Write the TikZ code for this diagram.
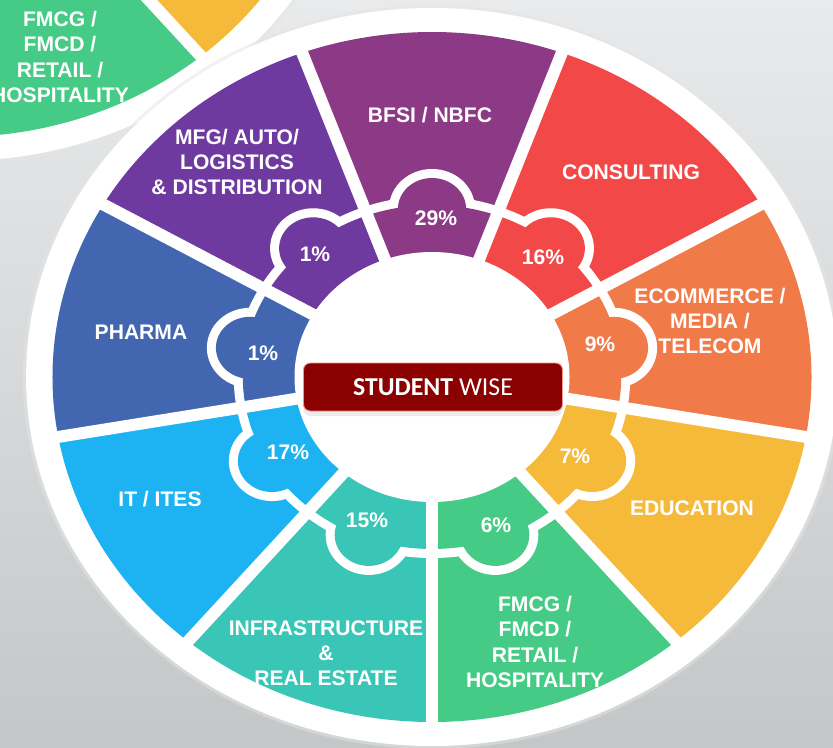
\documentclass[tikz,border=0pt]{standalone}
\usepackage{fontspec}
\setmainfont{Liberation Sans}
\newfontfamily\boxfont{Carlito}
\usepackage{tikz}
\usetikzlibrary{calc,shadows}

\definecolor{bgtop}{RGB}{233,234,235}
\definecolor{bgbot}{RGB}{196,199,200}
\definecolor{bfsi}{RGB}{141,58,134}
\definecolor{mfg}{RGB}{111,58,160}
\definecolor{pharma}{RGB}{66,103,176}
\definecolor{ites}{RGB}{29,179,243}
\definecolor{infra}{RGB}{58,198,182}
\definecolor{fmcg}{RGB}{69,203,133}
\definecolor{edu}{RGB}{246,186,58}
\definecolor{ecom}{RGB}{240,122,72}
\definecolor{consult}{RGB}{243,72,72}
\definecolor{boxred}{RGB}{139,0,0}
\definecolor{boxedge}{RGB}{240,150,140}

\tikzset{
	seglabel/.style={text=white,align=center,font=\bfseries\fontsize{18}{21.5}\selectfont},
	pctlabel/.style={text=white,font=\bfseries\fontsize{18}{21.5}\selectfont},
	gapline/.style={white,line width=10.2pt},
	rimline/.style={white,line width=15.4pt},
}

\begin{document}
\begin{tikzpicture}[x=0.3mm,y=-0.3mm]
	\useasboundingbox (0,0) rectangle (833,747);
	\clip (0,0) rectangle (833,747);
	\shade[top color=bgtop,bottom color=bgbot] (0,0) rectangle (833,747);
	% wheel of the next slide, cut by the frame
	\begin{scope}[shift={(-43,-208)},xscale=1.1,yscale=-1]
		\fill[black!10,opacity=.5] (0,0) circle[radius=372];
		\fill[white] (0,0) circle[radius=369];
		\fill[fmcg] (0,0) -- (270:345) arc[start angle=270,end angle=310,radius=345] -- cycle;
		\fill[edu] (0,0) -- (310:345) arc[start angle=310,end angle=350,radius=345] -- cycle;
		\foreach \a in {270,310,350}
			\draw[gapline] (0,0) -- (\a:360);
	\end{scope}
	\node[seglabel] (fmcg2) at (60,57) {FMCG /\\FMCD /\\RETAIL /\\HOSPITALITY};
	% main wheel
	\begin{scope}[shift={(432,377)},xscale=1.1,yscale=-1]
		\fill[black!10,opacity=.5] (0,0) circle[radius=372];
		\fill[white] (0,0) circle[radius=369];
		\foreach \m/\c in {90/bfsi,130/mfg,170/pharma,210/ites,250/infra,290/fmcg,330/edu,10/ecom,50/consult}
			\fill[\c] (0,0) -- (\m-20:345) arc[start angle=\m-20,end angle=\m+20,radius=345] -- cycle;
		\foreach \m/\c in {90/bfsi,130/mfg,170/pharma,210/ites,250/infra,290/fmcg,330/edu,10/ecom,50/consult}{
			\draw[rimline] (\m-20:172) arc[start angle=\m-20,end angle=\m+20,radius=172];
			\draw[rimline] (\m:168) circle[radius=31];
			\fill[\c] (0,0) -- (\m-20:172) arc[start angle=\m-20,end angle=\m+20,radius=172] -- cycle;
			\fill[\c] (\m:168) circle[radius=31];
		}
		\foreach \a in {30,70,...,350}
			\draw[gapline] (0,0) -- (\a:355);
		\fill[white] (0,0) circle[radius=125];
	\end{scope}
	% sector names
	\node[seglabel] (bfsi) at (430,115) {BFSI / NBFC};
	\node[seglabel] (mfg) at (237,162) {MFG/ AUTO/\\LOGISTICS\\\& DISTRIBUTION};
	\node[seglabel] (consult) at (631,172) {CONSULTING};
	\node[seglabel] (ecom) at (710,321) {ECOMMERCE /\\MEDIA /\\TELECOM};
	\node[seglabel] (edu) at (692,508) {EDUCATION};
	\node[seglabel] (fmcg) at (535,642) {FMCG /\\FMCD /\\RETAIL /\\HOSPITALITY};
	\node[seglabel] (infra) at (326,653) {INFRASTRUCTURE\\\&\\REAL ESTATE};
	\node[seglabel] (ites) at (160,499) {IT / ITES};
	\node[seglabel] (pharma) at (141,332) {PHARMA};
	% shares
	\node[pctlabel] (p-bfsi) at (436,218) {29\%};
	\node[pctlabel] (p-mfg) at (315,254) {1\%};
	\node[pctlabel] (p-consult) at (543,257) {16\%};
	\node[pctlabel] (p-ecom) at (600,344) {9\%};
	\node[pctlabel] (p-edu) at (575,456) {7\%};
	\node[pctlabel] (p-fmcg) at (496,525) {6\%};
	\node[pctlabel] (p-infra) at (367,520) {15\%};
	\node[pctlabel] (p-ites) at (288,452) {17\%};
	\node[pctlabel] (p-pharma) at (263,353) {1\%};
	% title box
	\node[fill=boxred,draw=boxedge,line width=0.8pt,rounded corners=2mm,minimum width=77.7mm,minimum height=14.4mm,text=white,font=\boxfont\fontsize{22}{26}\selectfont,drop shadow={shadow xshift=0pt,shadow yshift=-1.5mm,opacity=.15}] (title) at (433,387) {\textbf{STUDENT} WISE};
\end{tikzpicture}
\end{document}
